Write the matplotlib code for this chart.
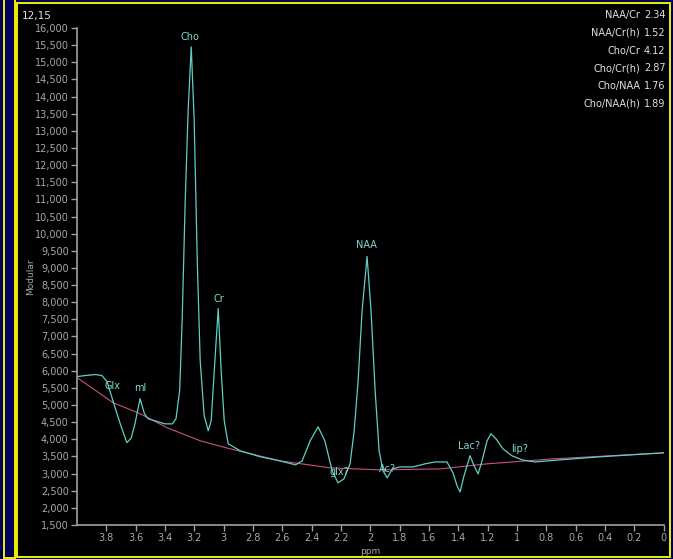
import matplotlib
matplotlib.use("Agg")
import matplotlib.pyplot as plt
from matplotlib.patches import Rectangle
from matplotlib.ticker import FuncFormatter, MultipleLocator

# spectrum (ppm, intensity)
spec_ppm = [4.00, 3.945, 3.875, 3.83, 3.795, 3.755, 3.705, 3.66, 3.63, 3.605,
            3.57, 3.54, 3.515, 3.47, 3.40, 3.35, 3.325, 3.30, 3.283, 3.262,
            3.242, 3.221, 3.201, 3.18, 3.16, 3.133, 3.105, 3.085, 3.064, 3.037,
            3.017, 2.996, 2.969, 2.887, 2.75, 2.615, 2.51, 2.465, 2.41, 2.356,
            2.31, 2.26, 2.22, 2.18, 2.138, 2.11, 2.083, 2.056, 2.022, 1.995,
            1.967, 1.94, 1.913, 1.885, 1.85, 1.797, 1.708, 1.626, 1.558, 1.477,
            1.436, 1.408, 1.388, 1.361, 1.32, 1.292, 1.265, 1.238, 1.204, 1.177,
            1.143, 1.095, 1.034, 0.965, 0.877, 0.706, 0.434, 0.0]
spec_val = [5830, 5860, 5890, 5860, 5680, 5125, 4450, 3900, 4040, 4450,
            5185, 4745, 4600, 4540, 4450, 4450, 4600, 5420, 7465, 10975,
            13605, 15450, 13315, 9220, 6295, 4690, 4250, 4540, 6000, 7815,
            6000, 4540, 3870, 3665, 3490, 3370, 3255, 3370, 3955, 4365,
            3955, 3080, 2730, 2845, 3285, 4250, 5710, 7755, 9335, 7755,
            5420, 3665, 3080, 2875, 3135, 3195, 3195, 3285, 3340, 3340,
            3020, 2640, 2465, 2935, 3520, 3225, 2990, 3370, 3955, 4160,
            4015, 3720, 3520, 3400, 3340, 3400, 3490, 3605]

# fitted baseline
base_ppm = [4.0, 3.753, 3.569, 3.385, 3.297, 3.16, 2.955, 2.614, 2.273,
            1.933, 1.524, 1.204, 0.754, 0.0]
base_val = [5800, 5067, 4746, 4336, 4190, 3956, 3722, 3371, 3167,
            3108, 3137, 3284, 3430, 3605]

# peak names
peak_names = ["Glx", "ml", "Cho", "Cr", "NAA", "glx?", "Ac?", "Lac?", "lip?"]
peak_ppm = [3.76, 3.569, 3.229, 3.031, 2.029, 2.213, 1.885, 1.327, 0.979]
peak_lab_val = [5565, 5506, 15740, 8108, 9658, 3050, 3137, 3810, 3722]

ratio_names = ["NAA/Cr", "NAA/Cr(h)", "Cho/Cr", "Cho/Cr(h)", "Cho/NAA", "Cho/NAA(h)"]
ratio_vals = ["2.34", "1.52", "4.12", "2.87", "1.76", "1.89"]

W, H = 673, 559
fig = plt.figure(figsize=(W / 100, H / 100), dpi=100, facecolor="#00005a")

def px(x0, y0, x1, y1):
    # pixel box (top-left origin) -> figure fraction rect
    return (x0 / W, 1 - y1 / H), (x1 - x0) / W, (y1 - y0) / H

xy, w, h = px(3.5, -5, 14.5, 557.5)
fig.patches.append(Rectangle(xy, w, h, transform=fig.transFigure, facecolor="#00005a",
                             edgecolor="#f0f000", lw=1.4, zorder=-10))
xy, w, h = px(16.5, 2.5, 669.5, 556.5)
fig.patches.append(Rectangle(xy, w, h, transform=fig.transFigure, facecolor="black",
                             edgecolor="#f0f000", lw=1.4, zorder=-10))

ax = fig.add_axes([77 / W, 1 - 525 / H, (663.6 - 77) / W, (525 - 28) / H])
ax.set_facecolor("none")

ax.plot(base_ppm, base_val, color="#c8508a", lw=0.8)
ax.plot(spec_ppm, spec_val, color="#5fd0c4", lw=0.9)

for name, p, v in zip(peak_names, peak_ppm, peak_lab_val):
    ax.text(p, v, name, color="#7fd8d0", fontsize=7, ha="center", va="center")

ax.set_xlim(4.0, 0.0)
ax.set_ylim(1500, 16000)
ax.set_xticks([3.8, 3.6, 3.4, 3.2, 3.0, 2.8, 2.6, 2.4, 2.2, 2.0, 1.8, 1.6,
               1.4, 1.2, 1.0, 0.8, 0.6, 0.4, 0.2, 0.0])
ax.xaxis.set_major_formatter(FuncFormatter(lambda v, p: f"{v:g}"))
ax.yaxis.set_major_locator(MultipleLocator(500))
ax.yaxis.set_major_formatter(FuncFormatter(lambda v, p: f"{int(v):,}"))

gray = "#a0a0a0"
for s in ["top", "right"]:
    ax.spines[s].set_visible(False)
for s in ["left", "bottom"]:
    ax.spines[s].set_color(gray)
    ax.spines[s].set_linewidth(1.2)
ax.tick_params(colors=gray, labelcolor="#a8a8a8", labelsize=7, length=4, width=1, pad=2)

ax.set_xlabel("ppm", color="#a8a8a8", fontsize=6.5, labelpad=3)
ax.set_ylabel("Modular", color="#a8a8a8", fontsize=6.5)
ax.yaxis.set_label_coords(-0.072, 0.5)

fig.text(22 / W, 1 - 16 / H, "12,15", color="#e0e0e0", fontsize=7.5, va="center")
for i, (n, v) in enumerate(zip(ratio_names, ratio_vals)):
    yy = 1 - (15 + i * 17.8) / H
    fig.text(640 / W, yy, n, color="#e0e0e0", fontsize=7, ha="right", va="center")
    fig.text(644 / W, yy, v, color="#e0e0e0", fontsize=7, ha="left", va="center")

fig.savefig("out.png", dpi=100, facecolor=fig.get_facecolor())
